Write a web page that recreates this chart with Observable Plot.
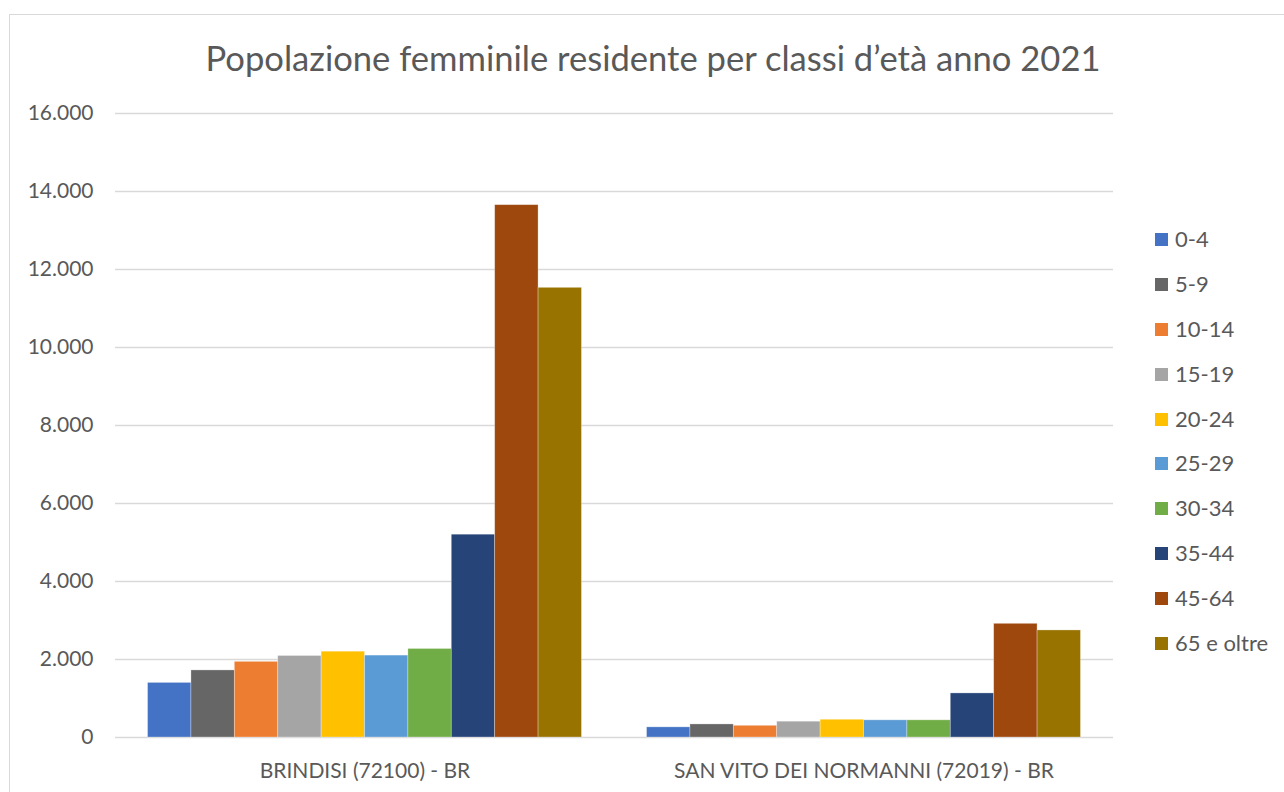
<!DOCTYPE html>
<html>
<head>
<meta charset="utf-8">
<script src="https://cdn.jsdelivr.net/npm/d3@7"></script>
<script src="https://cdn.jsdelivr.net/npm/@observablehq/plot@0.6"></script>
<style>
  html, body { margin: 0; padding: 0; background: #fff; }
  #wrap { position: relative; width: 1284px; height: 792px; overflow: hidden; font-family: Lato, "Open Sans", sans-serif; color: #595959; }
  #frame { position: absolute; left: 9px; top: 14px; width: 1300px; height: 800px; border: 1px solid #d9d9d9; box-sizing: border-box; }
  #title { position: absolute; left: 0; top: 37px; width: 1306px; text-align: center; font-size: 34.6px; line-height: 42px; color: #595959; white-space: nowrap; }
  #chart { position: absolute; left: 0; top: 0; }
  #legend { position: absolute; left: 1155px; top: 227px; }
  .row { height: 44.9px; display: flex; align-items: flex-start; font-size: 22px; line-height: 24px; }
  .sw { width: 13px; height: 13px; margin-top: 6px; margin-right: 7px; }
</style>
</head>
<body>
<div id="wrap">
  <div id="frame"></div>
  <div id="chart"></div>
  <div id="title">Popolazione femminile residente per classi d’età anno 2021</div>
  <div id="legend"></div>
</div>
<script>
const cities = ["BRINDISI (72100) - BR", "SAN VITO DEI NORMANNI (72019) - BR"];
const ageClasses = ["0-4", "5-9", "10-14", "15-19", "20-24", "25-29", "30-34", "35-44", "45-64", "65 e oltre"];
const brindisi = [1400, 1720, 1940, 2090, 2200, 2100, 2270, 5200, 13650, 11530];
const sanVito = [260, 335, 300, 405, 455, 440, 440, 1130, 2915, 2745];
const colors = ["#4472C4", "#666666", "#ED7D31", "#A5A5A5", "#FFC000", "#5B9BD5", "#70AD47", "#264478", "#9E480E", "#997300"];
const yTicks = [0, 2000, 4000, 6000, 8000, 10000, 12000, 14000, 16000];

const series = [brindisi, sanVito];
const data = [];
cities.forEach((c, i) => ageClasses.forEach((a, j) => data.push({city: c, age: a, value: series[i][j]})));

const itFmt = d3.formatLocale({decimal: ",", thousands: ".", grouping: [3], currency: ["", "€"]}).format(",");

const chart = Plot.plot({
  width: 1140,
  height: 792,
  marginTop: 113,
  marginBottom: 55,
  marginLeft: 115,
  marginRight: 27,
  style: {fontFamily: "Lato, 'Open Sans', sans-serif", fontSize: "21px", color: "#595959", background: "transparent"},
  fx: {domain: cities, padding: 0, round: false, label: null},
  x: {domain: ageClasses, paddingInner: 0, paddingOuter: 0.75, round: false, axis: null},
  y: {domain: [0, 16000], ticks: yTicks, label: null},
  color: {domain: ageClasses, range: colors},
  marks: [
    Plot.ruleY(yTicks, {stroke: "#d9d9d9", strokeWidth: 1.5}),
    Plot.barY(data, {fx: "city", x: "age", y: "value", fill: "age", stroke: "#ffffff", strokeOpacity: 0.4, strokeWidth: 0.75}),
    Plot.axisY({ticks: yTicks, tickFormat: itFmt, tickSize: 0, tickPadding: 22, label: null, fontSize: 21}),
    Plot.axisFx({anchor: "bottom", tickSize: 0, tickPadding: 26, label: null, fontSize: 21})
  ]
});
document.getElementById("chart").appendChild(chart);

const legend = document.getElementById("legend");
ageClasses.forEach((a, i) => {
  const row = document.createElement("div");
  row.className = "row";
  const sw = document.createElement("div");
  sw.className = "sw";
  sw.style.background = colors[i];
  const t = document.createElement("span");
  t.textContent = a;
  row.appendChild(sw); row.appendChild(t);
  legend.appendChild(row);
});
</script>
</body>
</html>
